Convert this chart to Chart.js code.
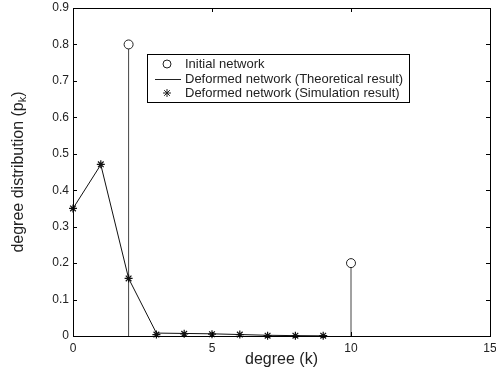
<!DOCTYPE html>
<html>
<head>
<meta charset="utf-8">
<script src="https://cdn.jsdelivr.net/npm/chart.js@4"></script>
<style>
  html, body { margin: 0; padding: 0; background: #fff; }
  #wrap { width: 496px; height: 373px; }
</style>
</head>
<body>
<div id="wrap"><canvas id="myChart" width="496" height="373"></canvas></div>
<script>
const degrees = [0, 1, 2, 3, 4, 5, 6, 7, 8, 9];
const theoretical = [0.35, 0.47, 0.158, 0.008, 0.007, 0.006, 0.004, 0.002, 0.001, 0.0005];
const simulation = [0.35, 0.471, 0.158, 0.004, 0.006, 0.005, 0.004, 0.001, 0.001, 0.001];
const initialDegrees = [2, 10];
const initialValues = [0.8, 0.2];
const xTicks = [0, 5, 10, 15];
const yTicks = [0, 0.1, 0.2, 0.3, 0.4, 0.5, 0.6, 0.7, 0.8, 0.9];
const legendLabels = [
  "Initial network",
  "Deformed network (Theoretical result)",
  "Deformed network (Simulation result)"
];

const font = "Liberation Sans, Arial, sans-serif";

// stems: vertical segment per value, broken by a null point
const stemData = [];
initialDegrees.forEach((k, i) => {
  stemData.push({ x: k, y: 0 }, { x: k, y: initialValues[i] }, { x: k, y: null });
});

const framePlugin = {
  id: "frame",
  afterDraw(chart) {
    const ctx = chart.ctx;
    const a = chart.chartArea;
    const xs = chart.scales.x;
    const ys = chart.scales.y;
    ctx.save();
    ctx.strokeStyle = "#000";
    ctx.lineWidth = 1;
    ctx.strokeRect(Math.round(a.left) + 0.5, Math.round(a.top) + 0.5,
      Math.round(a.right - a.left), Math.round(a.bottom - a.top));
    // inward ticks on all four sides
    ctx.beginPath();
    xTicks.forEach((v) => {
      const px = Math.round(xs.getPixelForValue(v)) + 0.5;
      ctx.moveTo(px, a.bottom); ctx.lineTo(px, a.bottom - 4);
      ctx.moveTo(px, a.top); ctx.lineTo(px, a.top + 4);
    });
    yTicks.forEach((v) => {
      const py = Math.round(ys.getPixelForValue(v)) + 0.5;
      ctx.moveTo(a.left, py); ctx.lineTo(a.left + 4, py);
      ctx.moveTo(a.right, py); ctx.lineTo(a.right - 4, py);
    });
    ctx.stroke();

    // axis titles
    ctx.fillStyle = "#222";
    ctx.font = "16px " + font;
    ctx.textAlign = "center";
    ctx.textBaseline = "middle";
    ctx.fillText("degree (k)", (a.left + a.right) / 2, 360);

    ctx.save();
    ctx.translate(17, (a.top + a.bottom) / 2);
    ctx.rotate(-Math.PI / 2);
    const main = "degree distribution (p";
    const sub = "k";
    const close = ")";
    ctx.font = "16px " + font;
    const w1 = ctx.measureText(main).width;
    const w3 = ctx.measureText(close).width;
    ctx.font = "11px " + font;
    const w2 = ctx.measureText(sub).width;
    let x0 = -(w1 + w2 + w3) / 2;
    ctx.textAlign = "left";
    ctx.textBaseline = "alphabetic";
    ctx.font = "16px " + font;
    ctx.fillText(main, x0, 6);
    ctx.font = "11px " + font;
    ctx.fillText(sub, x0 + w1, 9);
    ctx.font = "16px " + font;
    ctx.fillText(close, x0 + w1 + w2, 6);
    ctx.restore();

    // legend box
    const lx = 147, ly = 54, lw = 262, lh = 48;
    ctx.fillStyle = "#fff";
    ctx.fillRect(lx, ly, lw, lh);
    ctx.strokeStyle = "#000";
    ctx.strokeRect(lx + 0.5, ly + 0.5, lw, lh);
    ctx.fillStyle = "#222";
    ctx.font = "13px " + font;
    ctx.textAlign = "left";
    ctx.textBaseline = "middle";
    const rows = [64, 79, 93];
    legendLabels.forEach((t, i) => ctx.fillText(t, 185, rows[i]));
    ctx.strokeStyle = "#222";
    ctx.beginPath();
    ctx.arc(167, rows[0], 4, 0, Math.PI * 2);
    ctx.stroke();
    ctx.beginPath();
    ctx.moveTo(155, rows[1] + 0.5); ctx.lineTo(181, rows[1] + 0.5);
    ctx.stroke();
    ctx.beginPath();
    const r = 4;
    for (let i = 0; i < 4; i++) {
      const ang = (i * Math.PI) / 4;
      ctx.moveTo(167 - r * Math.cos(ang), rows[2] - r * Math.sin(ang));
      ctx.lineTo(167 + r * Math.cos(ang), rows[2] + r * Math.sin(ang));
    }
    ctx.stroke();
    ctx.restore();
  }
};

new Chart(document.getElementById("myChart").getContext("2d"), {
  type: "scatter",
  data: {
    datasets: [
      {
        data: initialDegrees.map((k, i) => ({ x: k, y: initialValues[i] })),
        pointStyle: "circle",
        pointRadius: 4.5,
        pointBackgroundColor: "#fff",
        pointBorderColor: "#222",
        pointBorderWidth: 1,
        showLine: false,
        clip: false,
        order: 0
      },
      {
        data: simulation.map((v, i) => ({ x: degrees[i], y: v })),
        pointStyle: "star",
        pointRadius: 4,
        pointBorderColor: "#111",
        pointBorderWidth: 1.2,
        showLine: false,
        clip: false,
        order: 1
      },
      {
        data: theoretical.map((v, i) => ({ x: degrees[i], y: v })),
        showLine: true,
        borderColor: "#111",
        borderWidth: 1,
        pointRadius: 0,
        tension: 0,
        order: 2
      },
      {
        data: stemData,
        showLine: true,
        spanGaps: false,
        borderColor: "#444",
        borderWidth: 1,
        pointRadius: 0,
        order: 3
      }
    ]
  },
  options: {
    responsive: false,
    devicePixelRatio: 1,
    animation: false,
    layout: { padding: { top: 8, right: 6, left: 0, bottom: 0 } },
    plugins: {
      legend: { display: false },
      tooltip: { enabled: false }
    },
    scales: {
      x: {
        type: "linear",
        min: 0,
        max: 15,
        afterBuildTicks: (s) => { s.ticks = xTicks.map((v) => ({ value: v })); },
        afterFit: (s) => { s.height = 37; s.paddingLeft = 0; s.paddingRight = 0; },
        grid: { display: false, drawTicks: false },
        border: { display: false },
        ticks: { color: "#222", padding: 5, font: { family: font, size: 12 }, maxRotation: 0 }
      },
      y: {
        min: 0,
        max: 0.9,
        afterBuildTicks: (s) => { s.ticks = yTicks.map((v) => ({ value: v })); },
        afterFit: (s) => { s.width = 73; s.paddingTop = 0; s.paddingBottom = 0; },
        grid: { display: false, drawTicks: false },
        border: { display: false },
        ticks: { color: "#222", padding: 4, font: { family: font, size: 12 } }
      }
    }
  },
  plugins: [framePlugin]
});
</script>
</body>
</html>
